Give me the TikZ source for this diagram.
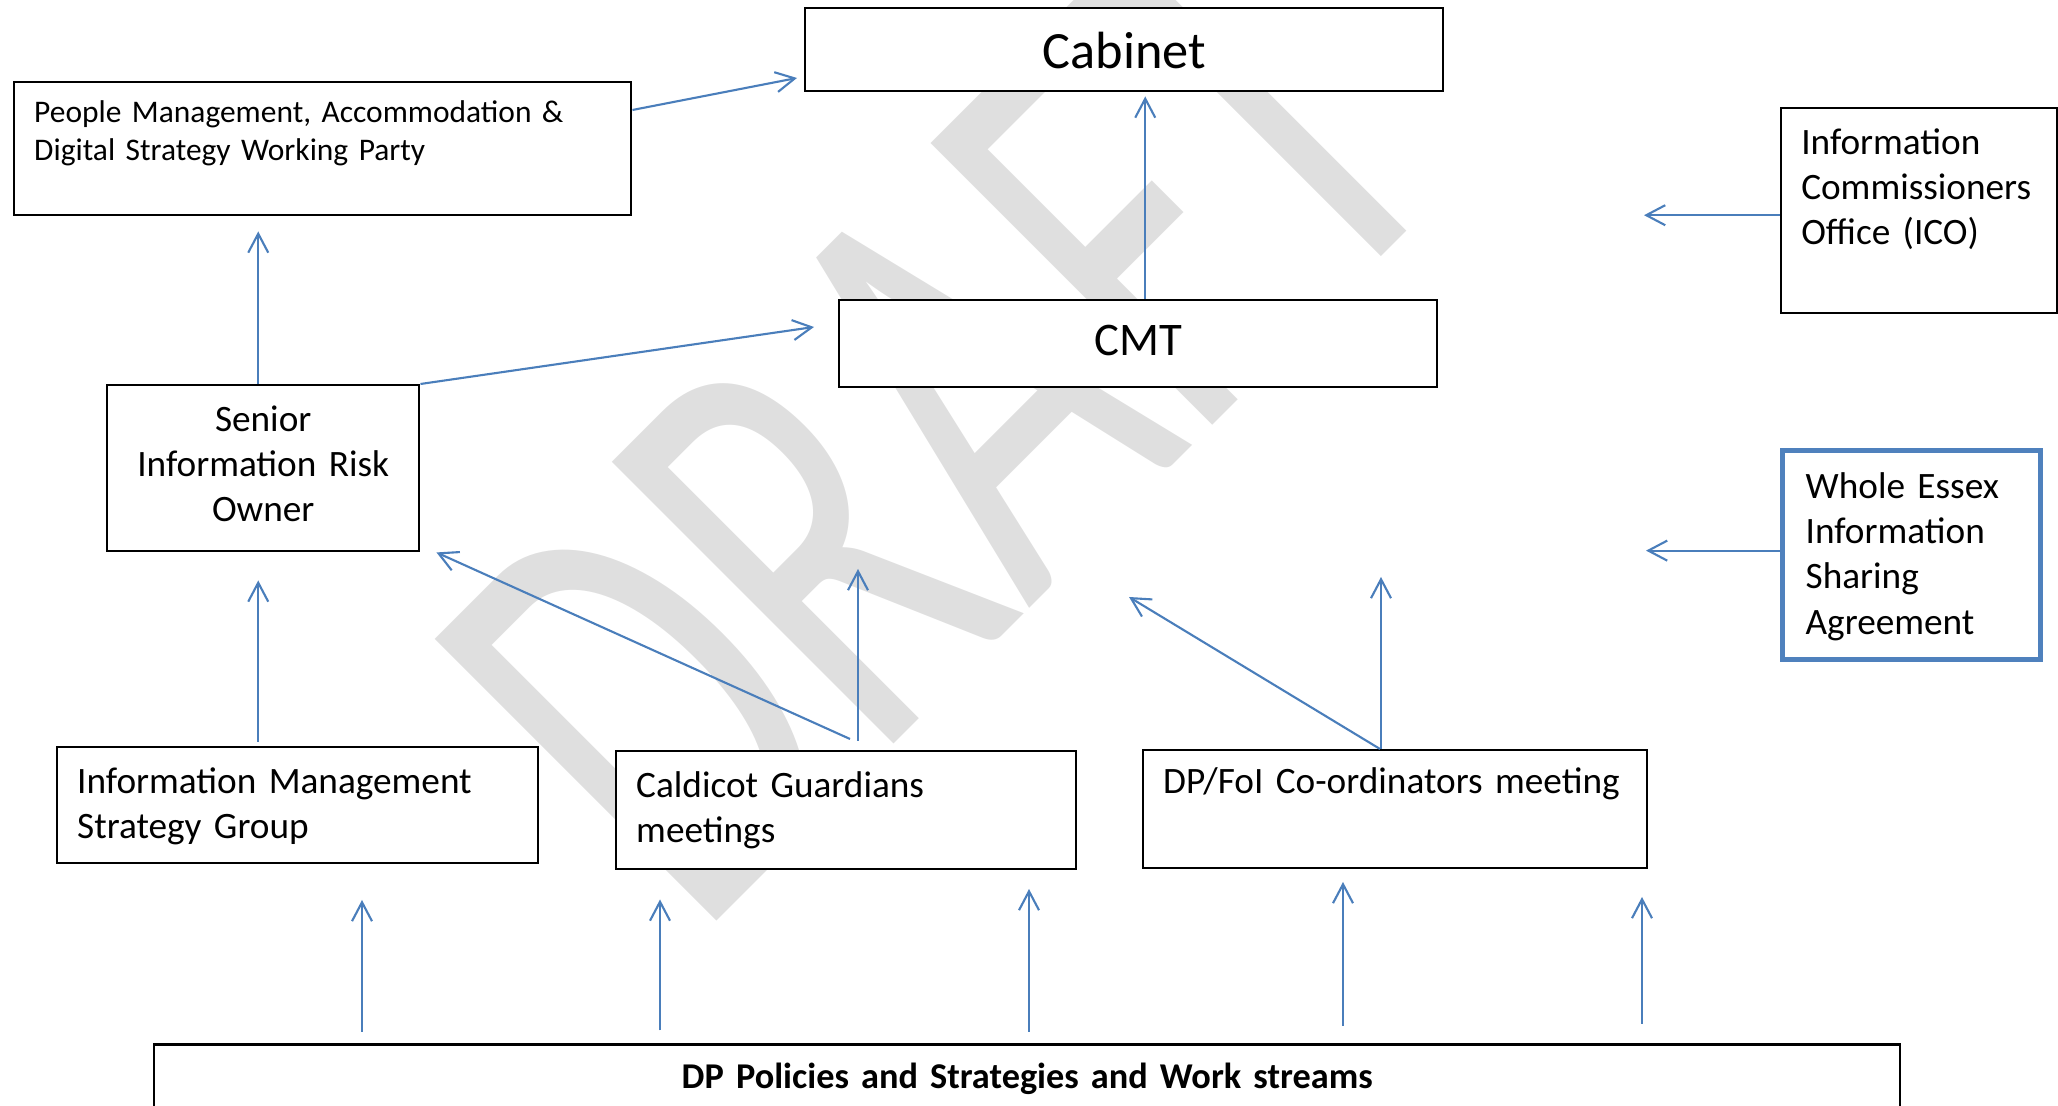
\documentclass[tikz,border=0pt]{standalone}
\usepackage{fontspec}
\setmainfont{Carlito}
\usepackage{tikz}
\usetikzlibrary{arrows.meta}
\definecolor{LinkBlue}{RGB}{74,126,187}
\definecolor{FrameBlue}{RGB}{79,129,189}
\colorlet{DraftGray}{gray!25}
\newcommand{\bodysize}{\fontsize{10.6}{12.85}\selectfont}
\tikzset{
  orgbox/.style={draw=black, line width=0.7pt, fill=white, inner xsep=0.2cm, inner ysep=0pt,
    align=left, anchor=north west, font=\bodysize},
  sharebox/.style={orgbox, draw=FrameBlue, line width=1.5pt, inner xsep=0.23cm},
  arr/.style={-{Straight Barb[length=5.4pt,width=5.7pt]}, line width=0.6pt, LinkBlue},
  wmark/.style={rotate=45, anchor=base west, inner sep=0pt, text=DraftGray,
    font=\fontsize{176.7}{180}\selectfont},
}

\begin{document}
\begin{tikzpicture}
  \useasboundingbox (0,0) rectangle (20.58,11.06);
  % watermark behind everything
  \node[wmark] (draft) at (6.97,1.65) {\scalebox{0.65}[1]{DRAFT}};

  \node[orgbox, align=center, text width=5.98cm, text height=0.60cm, text depth=0.23cm,
    font=\fontsize{14.9}{18}\selectfont] (cab) at (8.04,10.99) {Cabinet};
  \node[orgbox, text width=5.77cm, text height=0.40cm, text depth=0.93cm,
    font=\fontsize{8.95}{11}\selectfont] (pm) at (0.13,10.25)
    {People Management, Accommodation \&\\Digital Strategy Working Party};
  \node[orgbox, text width=2.36cm, text height=0.46cm, text depth=1.59cm] (ico) at (17.80,9.99)
    {Information\\Commissioners\\Office (ICO)};
  \node[orgbox, align=center, text width=5.58cm, text height=0.55cm, text depth=0.32cm,
    font=\fontsize{13.3}{16}\selectfont] (cmt) at (8.38,8.07) {CMT};
  \node[orgbox, align=center, inner xsep=0.1cm, text width=2.92cm, text height=0.46cm,
    text depth=1.20cm] (siro) at (1.06,7.22) {Senior\\Information Risk\\Owner};
  \node[sharebox, text width=2.12cm, text height=0.48cm, text depth=1.61cm] (weisa) at (17.80,6.58)
    {Whole Essex\\Information\\Sharing\\Agreement};
  \node[orgbox, text width=4.41cm, text height=0.46cm, text depth=0.70cm] (imsg) at (0.56,3.60)
    {Information Management\\Strategy Group};
  \node[orgbox, text width=4.20cm, text height=0.46cm, text depth=0.72cm] (cald) at (6.15,3.56)
    {Caldicot Guardians\\meetings};
  \node[orgbox, text width=4.64cm, text height=0.43cm, text depth=0.75cm] (foi) at (11.42,3.57)
    {DP/FoI Co-ordinators meeting};
  \node[orgbox, align=center, text width=17.06cm, text height=0.435cm, text depth=0.30cm,
    font=\fontsize{10.33}{12.85}\selectfont\bfseries] (dp) at (1.53,0.625)
    {DP Policies and Strategies and Work streams};

  % free arrow ends
  \coordinate (ico-in) at ([shift={(-1.36,-0.045)}]ico.west);
  \coordinate (weisa-in) at ([shift={(-1.34,0.045)}]weisa.west);
  \coordinate (cald-up) at ([shift={(2.43,1.81)}]cald.north west);
  \coordinate (foi-diag) at ([shift={(-0.13,1.52)}]foi.north west);
  \coordinate (foi-up) at ([shift={(2.39,1.72)}]foi.north west);

  \draw[arr] ([yshift=-0.29cm]pm.north east) -- ([shift={(-0.07,-0.71)}]cab.north west);
  \draw[arr] ([xshift=-0.05cm]siro.north) -- ([xshift=-0.05cm,yshift=-0.15cm]siro.north |- pm.south);
  \draw[arr] (siro.north east) -- ([shift={(-0.24,-0.28)}]cmt.north west);
  \draw[arr] ([xshift=0.07cm]cmt.north) -- ([xshift=0.07cm,yshift=-0.04cm]cmt.north |- cab.south);
  \draw[arr] ([yshift=-0.045cm]ico.west) -- (ico-in);
  \draw[arr] ([yshift=0.045cm]weisa.west) -- (weisa-in);
  \draw[arr] ([xshift=-0.05cm,yshift=0.04cm]siro.south |- imsg.north) -- ([xshift=-0.05cm,yshift=-0.28cm]siro.south);
  \draw[arr] ([shift={(2.35,0.11)}]cald.north west) -- ([xshift=0.16cm]siro.south east);
  \draw[arr] ([shift={(2.43,0.09)}]cald.north west) -- (cald-up);
  \draw[arr] ([shift={(2.38,0)}]foi.north west) -- (foi-diag);
  \draw[arr] ([shift={(2.39,0)}]foi.north west) -- (foi-up);

  \foreach \dx/\gap/\len [count=\i] in {2.09/0.115/1.32, 5.07/0.13/1.31, 8.76/0.115/1.43,
      11.90/0.175/1.44, 14.89/0.195/1.27} {
    \coordinate (feed\i) at ([shift={(\dx,\gap+\len)}]dp.north west);
    \draw[arr] ([shift={(\dx,\gap)}]dp.north west) -- (feed\i);
  }
\end{tikzpicture}
\end{document}
